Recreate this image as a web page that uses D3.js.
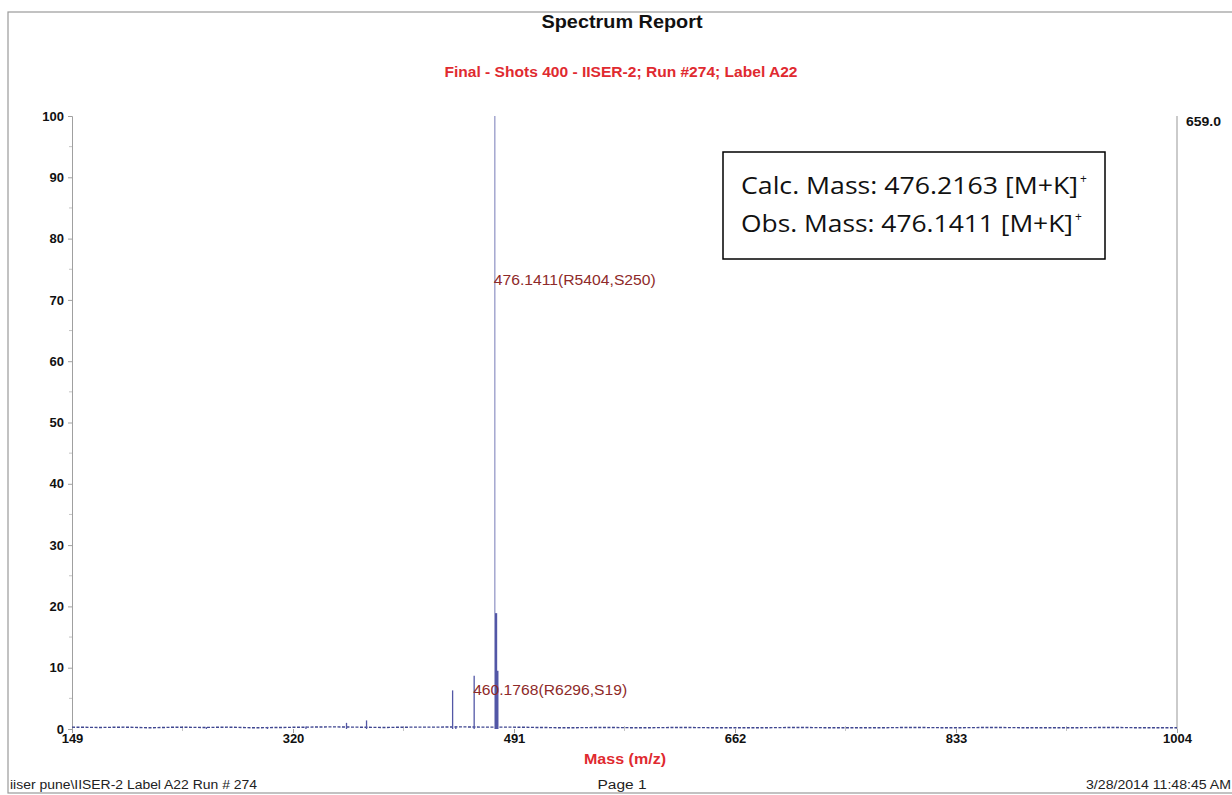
<!DOCTYPE html>
<html>
<head>
<meta charset="utf-8">
<script src="https://cdn.jsdelivr.net/npm/d3@7"></script>
<style>
  html, body { margin: 0; padding: 0; background: #fff; }
  svg { display: block; }
  text { font-family: "Liberation Sans", Arial, sans-serif; }
  text.box { font-family: "Open Sans", sans-serif; }
</style>
</head>
<body>
<svg id="chart" width="1232" height="795"></svg>
<script>
// ---- data ----
const xTicks = [149, 320, 491, 662, 833, 1004];
const yTicks = [0, 10, 20, 30, 40, 50, 60, 70, 80, 90, 100];
const peakMz = [443.5, 460.18, 477.14, 478.14, 361.4, 376.9, 446.0, 330.0, 300.2, 253.0];
const peakIntensity = [6.3, 8.7, 18.9, 9.5, 1.0, 1.4, 0.5, 0.4, 0.35, 0.3];
const basePeakMz = 476.14;
const basePeakIntensity = 100;
const noiseMz = [149, 170, 190, 210, 230, 250, 270, 290, 310, 330, 350, 370, 390, 410, 430, 450, 470, 490, 510, 530, 560, 590, 620, 650, 680, 710, 740, 770, 800, 830, 860, 890, 920, 950, 980, 1004];
const noiseVal = [0.3, 0.25, 0.3, 0.2, 0.3, 0.25, 0.3, 0.2, 0.25, 0.3, 0.35, 0.3, 0.25, 0.3, 0.3, 0.35, 0.3, 0.3, 0.25, 0.2, 0.25, 0.2, 0.25, 0.2, 0.2, 0.25, 0.2, 0.2, 0.25, 0.2, 0.25, 0.2, 0.2, 0.25, 0.2, 0.2];
const annotations = [
  { text: "476.1411(R5404,S250)", mz: 476.14, y: 72.5 },
  { text: "460.1768(R6296,S19)", mz: 460.18, y: 5.6 }
];
const maxAbs = "659.0";

// ---- layout ----
const svg = d3.select("#chart");
const x = d3.scaleLinear().domain([149, 1004]).range([72, 1177]);
const y = d3.scaleLinear().domain([0, 100]).range([729, 116]);

// page border
svg.append("rect").attr("x", 8).attr("y", 12).attr("width", 1240).attr("height", 781)
  .attr("fill", "none").attr("stroke", "#9a9a9a").attr("stroke-width", 1.2);

// titles
svg.append("text").attr("x", 622).attr("y", 28).attr("text-anchor", "middle")
  .attr("font-size", 18).attr("font-weight", "bold").attr("fill", "#111")
  .attr("textLength", 161).attr("lengthAdjust", "spacingAndGlyphs").text("Spectrum Report");
svg.append("text").attr("x", 621).attr("y", 77).attr("text-anchor", "middle")
  .attr("font-size", 14).attr("font-weight", "bold").attr("fill", "#e02a30")
  .attr("textLength", 353).attr("lengthAdjust", "spacingAndGlyphs")
  .text("Final - Shots 400 - IISER-2; Run #274; Label A22");

// y axis
const yAxis = d3.axisLeft(y).tickValues(yTicks).tickSize(4).tickPadding(4);
const gy = svg.append("g").attr("transform", "translate(72,0)").call(yAxis);
gy.select(".domain").attr("stroke", "#a0a0a0");
gy.selectAll(".tick line").attr("stroke", "#a0a0a0");
gy.selectAll(".tick text").attr("font-size", 13).attr("font-weight", "bold").attr("fill", "#111");
// minor y ticks
svg.append("g").selectAll("line").data(d3.range(5, 100, 10)).join("line")
  .attr("x1", 69).attr("x2", 72).attr("y1", d => y(d)).attr("y2", d => y(d))
  .attr("stroke", "#c4c4c4");

// x axis
const xAxis = d3.axisBottom(x).tickValues(xTicks).tickFormat(d3.format("d")).tickSize(4).tickPadding(1);
const gx = svg.append("g").attr("transform", "translate(0,729)").call(xAxis);
gx.select(".domain").remove();
gx.selectAll(".tick line").attr("stroke", "#a0a0a0");
gx.selectAll(".tick text").attr("font-size", 13).attr("font-weight", "bold").attr("fill", "#111");
const minorX = xTicks.slice(0, -1).map((d, i) => (d + xTicks[i + 1]) / 2);
svg.append("g").selectAll("line").data(minorX).join("line")
  .attr("x1", d => x(d)).attr("x2", d => x(d)).attr("y1", 726).attr("y2", 731)
  .attr("stroke", "#c4c4c4");

// right axis line
svg.append("line").attr("x1", x(1004)).attr("x2", x(1004)).attr("y1", y(100)).attr("y2", y(0))
  .attr("stroke", "#a8a8a8").attr("stroke-width", 1.2);
svg.append("text").attr("x", 1186).attr("y", 126).attr("font-size", 13).attr("font-weight", "bold")
  .attr("fill", "#111").attr("textLength", 35).attr("lengthAdjust", "spacingAndGlyphs").text(maxAbs);

// baseline noise
const noiseLine = d3.line().x((d, i) => x(noiseMz[i])).y((d, i) => y(noiseVal[i]));
svg.append("path").datum(noiseMz).attr("d", noiseLine).attr("fill", "none")
  .attr("stroke", "#3f4690").attr("stroke-width", 1.4).attr("stroke-dasharray", "3,1.5");

// peaks
svg.append("line").attr("x1", x(basePeakMz)).attr("x2", x(basePeakMz))
  .attr("y1", y(0)).attr("y2", y(basePeakIntensity))
  .attr("stroke", "#a4a7cf").attr("stroke-width", 1.5);
svg.append("g").selectAll("line").data(peakMz).join("line")
  .attr("x1", d => x(d)).attr("x2", d => x(d))
  .attr("y1", y(0)).attr("y2", (d, i) => y(peakIntensity[i]))
  .attr("stroke", "#5357a6").attr("stroke-width", (d, i) => peakIntensity[i] > 9 ? 2.2 : 1.3);

// peak annotations
svg.append("g").selectAll("text").data(annotations).join("text")
  .attr("x", d => x(d.mz) - 1).attr("y", d => y(d.y))
  .attr("font-size", 14).attr("fill", "#8e2a2a")
  .attr("textLength", (d, i) => i === 0 ? 162 : 154).attr("lengthAdjust", "spacingAndGlyphs")
  .text(d => d.text);

// x-axis title
svg.append("text").attr("x", 625).attr("y", 764).attr("text-anchor", "middle")
  .attr("font-size", 15).attr("font-weight", "bold").attr("fill", "#e02a30")
  .attr("textLength", 82).attr("lengthAdjust", "spacingAndGlyphs").text("Mass (m/z)");

// footer
svg.append("text").attr("x", 10).attr("y", 789).attr("font-size", 12).attr("fill", "#222")
  .attr("textLength", 247).attr("lengthAdjust", "spacingAndGlyphs")
  .text("iiser pune\\IISER-2 Label A22 Run # 274");
svg.append("text").attr("x", 622).attr("y", 789).attr("text-anchor", "middle").attr("font-size", 12)
  .attr("fill", "#222").attr("textLength", 49).attr("lengthAdjust", "spacingAndGlyphs").text("Page 1");
svg.append("text").attr("x", 1086).attr("y", 789).attr("font-size", 12)
  .attr("fill", "#222").attr("textLength", 145).attr("lengthAdjust", "spacingAndGlyphs")
  .text("3/28/2014 11:48:45 AM");

// inset box
svg.append("rect").attr("x", 723).attr("y", 152).attr("width", 382).attr("height", 107)
  .attr("fill", "#fff").attr("stroke", "#000").attr("stroke-width", 1.5);
const boxLines = [["Calc. Mass: 476.2163 [M+K]", 194, 337], ["Obs. Mass: 476.1411 [M+K]", 232, 332]];
boxLines.forEach(([t, yy, w]) => {
  const tx = svg.append("text").attr("class", "box").attr("x", 741).attr("y", yy).attr("font-size", 23)
    .attr("fill", "#111");
  tx.append("tspan").attr("textLength", w).attr("lengthAdjust", "spacingAndGlyphs").text(t);
  tx.append("tspan").attr("dx", 2).attr("dy", -11).attr("font-size", 12).text("+");
});
</script>
</body>
</html>
